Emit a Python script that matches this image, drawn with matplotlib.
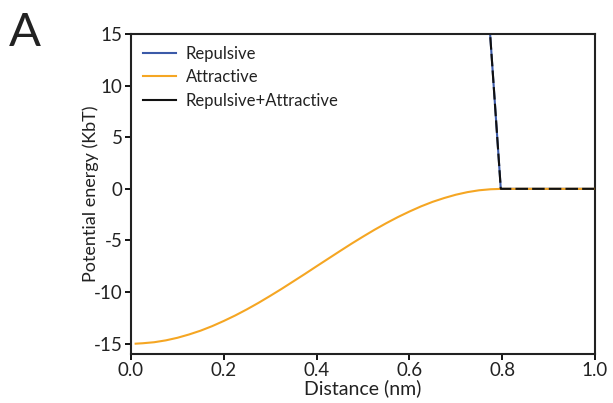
import matplotlib
matplotlib.use('Agg')
import matplotlib.pyplot as plt

plt.rcParams['font.family'] = ['Lato', 'DejaVu Sans']
plt.rcParams['axes.unicode_minus'] = False

# attractive potential
att_x = [0.01, 0.025, 0.05, 0.075, 0.10, 0.125, 0.15, 0.175, 0.20, 0.225,
         0.25, 0.275, 0.30, 0.325, 0.35, 0.375, 0.40, 0.425, 0.45, 0.475,
         0.50, 0.525, 0.55, 0.575, 0.60, 0.625, 0.65, 0.675, 0.70, 0.725,
         0.75, 0.775, 0.80, 1.00]
att_y = [-15.0, -14.96, -14.86, -14.68, -14.43, -14.11, -13.74, -13.30, -12.80, -12.26,
         -11.67, -11.04, -10.37, -9.68, -8.96, -8.24, -7.50, -6.77, -6.04, -5.32,
         -4.63, -3.96, -3.33, -2.74, -2.20, -1.70, -1.26, -0.89, -0.57, -0.32,
         -0.14, -0.04, 0.0, 0.0]

# repulsive potential (steep wall near 0.8 nm)
rep_x = [0.772, 0.797, 1.00]
rep_y = [16.3, 0.0, 0.0]

# sum
tot_x = [0.772, 0.797, 1.00]
tot_y = [16.3, 0.0, 0.0]

blue = '#3b5aa8'
orange = '#f5a623'
ink = '#222222'

fig = plt.figure(figsize=(6.13, 4.03), dpi=100)
ax = fig.add_axes([0.2137, 0.1216, 0.7569, 0.794])

ax.plot(rep_x, rep_y, color=blue, lw=1.5, label='Repulsive', zorder=2)
ax.plot(att_x, att_y, color=orange, lw=1.5, label='Attractive', zorder=3)
ax.plot(tot_x, tot_y, color='#111111', lw=1.5, dashes=(6, 2),
        label='Repulsive+Attractive', zorder=4)

ax.set_xlim(0, 1.0)
ax.set_ylim(-16, 15)
ax.set_xticks([0.0, 0.2, 0.4, 0.6, 0.8, 1.0])
ax.set_xticklabels(['0.0', '0.2', '0.4', '0.6', '0.8', '1.0'])
ax.set_yticks([-15, -10, -5, 0, 5, 10, 15])
ax.tick_params(direction='out', length=4, width=1.3, labelsize=13.5,
               colors='black', labelcolor=ink, pad=2)
for s in ax.spines.values():
    s.set_linewidth(1.5)
    s.set_color(ink)

ax.set_xlabel('Distance (nm)', fontsize=14, color=ink, labelpad=0)
ax.set_ylabel('Potential energy (KbT)', fontsize=13, color=ink)
ax.yaxis.set_label_coords(-0.069, 0.5)

leg = ax.legend(loc='upper left', frameon=False, fontsize=12, handlelength=2.0,
                handletextpad=0.6, labelspacing=0.45, borderaxespad=0.4,
                borderpad=0.3)
for t in leg.get_texts():
    t.set_color(ink)
leg.get_lines()[2].set_linestyle('-')

fig.text(0.015, 0.885, 'A', fontsize=34, color=ink)

fig.savefig('out.png', dpi=100)
